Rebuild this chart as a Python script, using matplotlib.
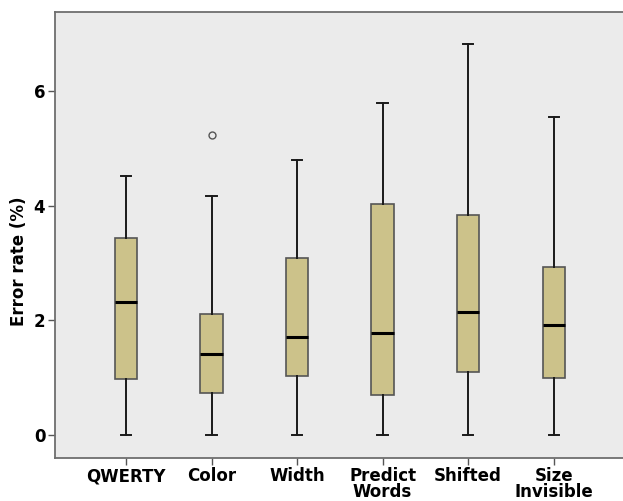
import numpy as np
import matplotlib.pyplot as plt

# keyboard layouts and box statistics
labels = ["QWERTY", "Color", "Width", "Predict\nWords", "Shifted", "Size\nInvisible"]
whislo = [0.0, 0.0, 0.0, 0.0, 0.0, 0.0]
q1 = [0.98, 0.73, 1.02, 0.69, 1.10, 0.99]
med = [2.32, 1.42, 1.71, 1.77, 2.15, 1.92]
q3 = [3.44, 2.11, 3.08, 4.03, 3.83, 2.93]
whishi = [4.51, 4.16, 4.79, 5.79, 6.82, 5.54]
fliers = [[], [5.23], [], [], [], []]

stats = []
for i in range(len(labels)):
    stats.append(dict(label=labels[i], whislo=whislo[i], q1=q1[i], med=med[i],
                      q3=q3[i], whishi=whishi[i], fliers=fliers[i]))

fig = plt.figure(figsize=(6.23, 5.01), dpi=100)
ax = fig.add_axes([55/623, 1-457.7/501, 1-55/623, (457.7-11.7)/501])
ax.set_facecolor("#ebebeb")

ax.bxp(stats, positions=np.arange(1, 7), widths=0.26, patch_artist=True,
       boxprops=dict(facecolor="#ccc28a", edgecolor="#555555", linewidth=1.2),
       medianprops=dict(color="black", linewidth=2.2),
       whiskerprops=dict(color="#1a1a1a", linewidth=1.4),
       capprops=dict(color="#1a1a1a", linewidth=1.4),
       capwidths=0.12,
       flierprops=dict(marker="o", markersize=5, markerfacecolor="none",
                       markeredgecolor="#555555", markeredgewidth=1.0))

ax.set_xlim(1 - 71/85.5, 6 + 69.3/85.5)
ax.set_ylim(-0.396, 7.38)
ax.set_yticks([0, 2, 4, 6])
ax.set_yticklabels(["0", "2", "4", "6"], fontsize=12, fontweight="bold")
ax.set_xticklabels(labels, fontsize=12, fontweight="bold", linespacing=0.82)
ax.tick_params(axis="both", color="#555555", length=5, width=1)
ax.tick_params(axis="x", pad=2)
ax.tick_params(axis="y", pad=2)
ax.set_ylabel("Error rate (%)", fontsize=12, fontweight="bold")
ax.yaxis.set_label_coords(-0.047, 0.44)

for s in ["left", "top", "bottom"]:
    ax.spines[s].set_color("#6e6e6e")
    ax.spines[s].set_linewidth(1.3)
ax.spines["right"].set_visible(False)

plt.savefig("out.png", dpi=100)
